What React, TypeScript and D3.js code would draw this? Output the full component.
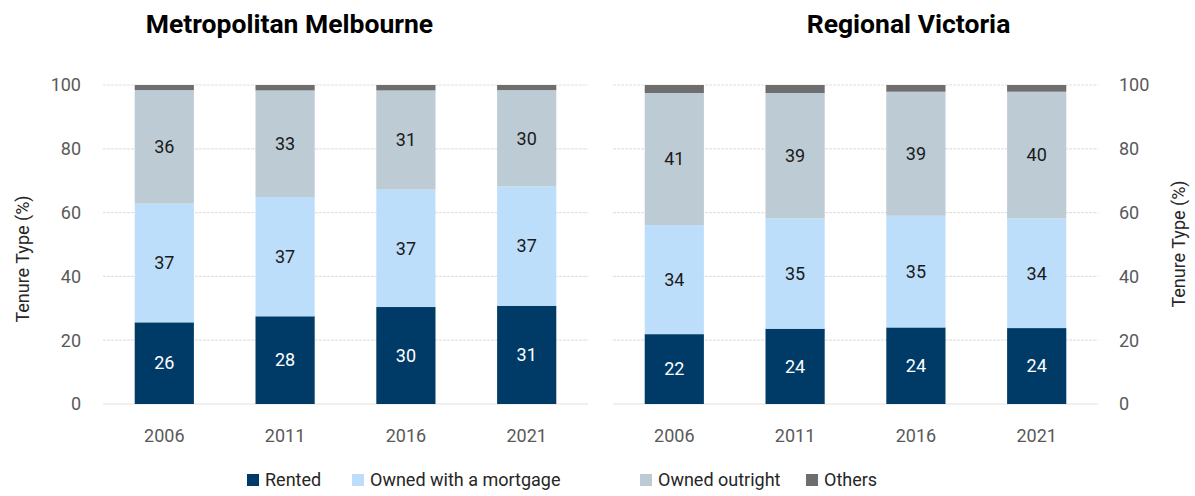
import React from "react";
import * as d3 from "d3";

const years = ["2006", "2011", "2016", "2021"];
const seriesNames = ["Rented", "Owned with a mortgage", "Owned outright", "Others"];
const seriesColors = ["#003B68", "#BDDEFA", "#BDCBD5", "#6E6E6E"];
const labelColors = ["#ffffff", "#1a1a1a", "#1a1a1a", "none"];

// Metropolitan Melbourne
const metroRented = [25.6, 27.5, 30.4, 30.8];
const metroMortgage = [37.2, 37.4, 36.8, 37.4];
const metroOutright = [35.6, 33.4, 31.1, 30.2];
const metroOthers = [1.6, 1.7, 1.7, 1.6];

// Regional Victoria
const regRented = [21.9, 23.6, 24.0, 23.8];
const regMortgage = [34.2, 34.6, 35.0, 34.4];
const regOutright = [41.4, 39.3, 38.9, 39.7];
const regOthers = [2.5, 2.5, 2.1, 2.1];

const yTicks = [0, 20, 40, 60, 80, 100];

const FONT = "Roboto, 'Noto Sans', sans-serif";

type PanelProps = {
  title: string;
  titleX: number;
  range: [number, number];
  series: number[][];
  axisSide: "left" | "right";
  axisLabelX: number;
  axisLabelY: number;
};

const y = d3.scaleLinear().domain([0, 100]).range([404, 85]);

function Panel({ title, titleX, range, series, axisSide, axisLabelX, axisLabelY }: PanelProps) {
  const x = d3.scaleBand<string>().domain(years).range(range).paddingInner(0.51).paddingOuter(0.2625);
  const rows = years.map((yr, i) => {
    const r: any = { year: yr };
    seriesNames.forEach((s, k) => (r[s] = series[k][i]));
    return r;
  });
  const stacked = d3.stack<any>().keys(seriesNames)(rows);
  return (
    <g>
      <text x={titleX} y={33} textAnchor="middle" fontFamily={FONT} fontWeight={700} fontSize={26.5} fill="#000">
        {title}
      </text>
      {yTicks.map((t) => (
        <line
          key={t}
          x1={range[0]}
          x2={range[1]}
          y1={y(t)}
          y2={y(t)}
          stroke="#e2e2e2"
          strokeWidth={1.2}
          strokeDasharray={t === 0 ? undefined : "3 1"}
        />
      ))}
      {yTicks.map((t) => (
        <text
          key={"l" + t}
          x={axisSide === "left" ? 81 : 1119}
          y={y(t)}
          dy="0.35em"
          textAnchor={axisSide === "left" ? "end" : "start"}
          fontFamily={FONT}
          fontSize={18}
          fill="#595959"
        >
          {t}
        </text>
      ))}
      <text
        transform={`translate(${axisLabelX},${axisLabelY}) rotate(-90)`}
        textAnchor="middle"
        dy="0.35em"
        fontFamily={FONT}
        fontSize={18}
        fill="#262626"
      >
        Tenure Type (%)
      </text>
      {stacked.map((layer, k) => (
        <g key={layer.key}>
          {layer.map((d, i) => (
            <rect
              key={i}
              x={x(years[i])}
              width={x.bandwidth()}
              y={y(d[1])}
              height={y(d[0]) - y(d[1])}
              fill={seriesColors[k]}
            />
          ))}
        </g>
      ))}
      {stacked.map((layer, k) =>
        labelColors[k] === "none"
          ? null
          : layer.map((d, i) => (
              <text
                key={layer.key + i}
                x={(x(years[i]) as number) + x.bandwidth() / 2}
                y={(y(d[0]) + y(d[1])) / 2}
                dy="0.35em"
                textAnchor="middle"
                fontFamily={FONT}
                fontSize={18}
                fill={labelColors[k]}
              >
                {Math.round(d[1] - d[0])}
              </text>
            ))
      )}
      {years.map((yr) => (
        <text
          key={yr}
          x={(x(yr) as number) + x.bandwidth() / 2}
          y={442}
          textAnchor="middle"
          fontFamily={FONT}
          fontSize={18}
          fill="#595959"
        >
          {yr}
        </text>
      ))}
    </g>
  );
}

const legendX = [247, 352, 640, 806];

export default function App() {
  return (
    <svg width={1195} height={496} style={{ position: "absolute", left: 0, top: 0 }}>
      <rect width={1195} height={496} fill="#fff" />
      <Panel
        title="Metropolitan Melbourne"
        titleX={289.5}
        range={[103, 588]}
        series={[metroRented, metroMortgage, metroOutright, metroOthers]}
        axisSide="left"
        axisLabelX={23}
        axisLabelY={259}
      />
      <Panel
        title="Regional Victoria"
        titleX={908.5}
        range={[613, 1098]}
        series={[regRented, regMortgage, regOutright, regOthers]}
        axisSide="right"
        axisLabelX={1179}
        axisLabelY={244}
      />
      {seriesNames.map((s, k) => (
        <g key={s}>
          <rect x={legendX[k]} y={474} width={12} height={12} fill={seriesColors[k]} />
          <text x={legendX[k] + 18} y={480} dy="0.35em" fontFamily={FONT} fontSize={18} fill="#262626">
            {s}
          </text>
        </g>
      ))}
    </svg>
  );
}
